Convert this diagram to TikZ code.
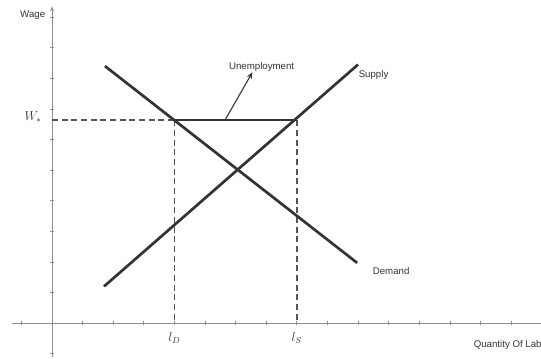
\documentclass[tikz,border=0pt]{standalone}
\usepackage{fontspec}
\setsansfont{Liberation Sans}
\usetikzlibrary{arrows.meta, positioning}
\definecolor{axisgray}{HTML}{8E8E8E}
\definecolor{linegray}{HTML}{333333}
\definecolor{dashgray}{HTML}{555555}

\begin{document}
\begin{tikzpicture}[x=1cm, y=1cm, >={Stealth[length=2.2mm, width=1.8mm]},
  curve/.style={linegray, line width=2.5pt},
  guide/.style={dashgray, line width=1.5pt, dash pattern=on 5.5pt off 3.5pt},
  axis/.style={axisgray, line width=0.8pt},
  lbl/.style={font=\sffamily\fontsize{9}{11}\selectfont, text=linegray}]

% Frame (also the bounding box)
\clip (-1.7,-1.14) rectangle (15.98,10.56);

% Axes
\draw[axis, -{Stealth[length=1.6mm, width=1.3mm]}] (0,-1.1) -- (0,10.35);
\draw[axis] (-1.3,0) -- (16.5,0);
\foreach \i in {-1,1,2,...,16}
  \draw[axisgray, line width=0.6pt] (\i,-0.07) -- (\i,0.07);
\foreach \j in {-1,1,2,...,10}
  \draw[axisgray, line width=0.6pt] (-0.07,\j) -- (0.07,\j);

% Key points
\coordinate (dtop) at (1.73,8.40);
\coordinate (dbot) at (9.97,1.97);
\coordinate (sbot) at (1.70,1.20);
\coordinate (stop) at (10.0,8.45);
\coordinate (wd) at (4,6.63);
\coordinate (ws) at (8,6.63);
\coordinate (wy) at (0,6.63);
\coordinate (ldx) at (4,0);
\coordinate (lsx) at (8,0);
\coordinate (ustart) at (5.65,6.63);

% Dashed guides
\draw[guide] (wy) -- (wd);
\draw[guide] (wd) -- (ldx);
\draw[guide] (ws) -- (lsx);

% Demand and supply
\draw[curve] (dtop) -- (dbot);
\draw[curve] (sbot) -- (stop);

% Wage floor gap
\draw[curve, line width=1.8pt] (wd) -- (ws);

% Labels
\node[lbl] (unemp) at (6.85,8.37) {Unemployment};
\node[lbl, anchor=west] (supply) at (9.9,8.1) {Supply};
\node[lbl, anchor=west] (demand) at (10.36,1.7) {Demand};
\node[lbl, anchor=east] (wage) at (-0.1,10.07) {Wage};
\node[lbl, anchor=west] (qty) at (13.66,-0.72) {Quantity Of Labour};
\node[font=\fontsize{11.5}{12}\selectfont, text=linegray] (wstar) at (-0.62,6.72) {$W_*$};
\node[font=\fontsize{11.5}{12}\selectfont, text=linegray] (ld) at (4,-0.5) {$l_D$};
\node[font=\fontsize{11.5}{12}\selectfont, text=linegray] (ls) at (8,-0.5) {$l_S$};

% Arrow to the label
\draw[->, linegray, line width=1pt] (ustart) -- ([xshift=-3mm, yshift=1mm]unemp.south);

\end{tikzpicture}
\end{document}
